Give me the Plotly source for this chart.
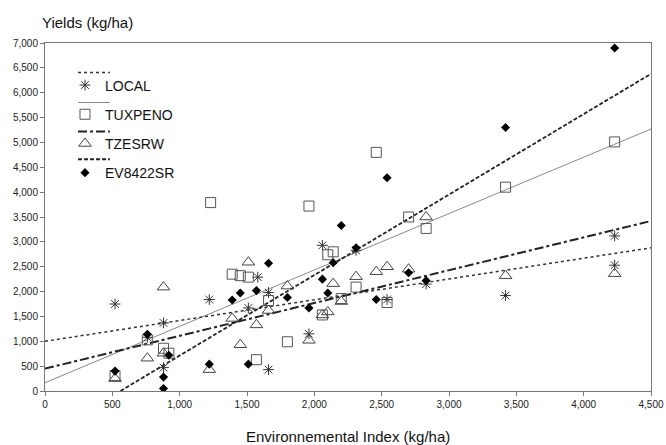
import plotly.graph_objects as go

# ---------------- data ----------------
local_x = [520, 760, 880, 880, 1220, 1510, 1580, 1660, 1660, 1960, 2060, 2310, 2540, 2830, 3420, 4230, 4230]
local_y = [1750, 1080, 1370, 470, 1840, 1670, 2290, 1980, 430, 1150, 2930, 2830, 1840, 2150, 1920, 3120, 2530]

tux_x = [520, 760, 880, 920, 1230, 1390, 1450, 1510, 1570, 1660, 1800, 1960, 2060, 2100, 2140, 2200, 2310, 2460, 2540, 2700, 2830, 3420, 4230]
tux_y = [310, 1030, 860, 760, 3790, 2350, 2320, 2290, 630, 1820, 990, 3720, 1530, 2740, 2800, 1860, 2090, 4800, 1780, 3500, 3270, 4100, 5010]

tze_x = [520, 760, 880, 880, 1220, 1390, 1450, 1510, 1570, 1660, 1800, 1960, 2060, 2100, 2140, 2200, 2310, 2460, 2540, 2700, 2830, 3420, 4230]
tze_y = [250, 660, 2090, 760, 430, 1460, 930, 2590, 1330, 1620, 2110, 1020, 1530, 1590, 2160, 1800, 2300, 2400, 2500, 2450, 3500, 2320, 2360]

ev_x = [520, 760, 880, 880, 920, 1220, 1390, 1450, 1510, 1570, 1660, 1800, 1960, 2060, 2100, 2140, 2200, 2310, 2460, 2540, 2700, 2830, 3420, 4230]
ev_y = [400, 1140, 280, 50, 720, 540, 1830, 1970, 540, 2020, 2570, 1880, 1670, 2250, 1970, 2580, 3330, 2880, 1840, 4290, 2380, 2220, 5300, 6900]

# regression lines (end points)
fit_x = [0, 4500]
local_fit = [1000, 2880]
tux_fit = [167, 5270]
tze_fit = [450, 3420]
ev_fit_x = [560, 4500]
ev_fit = [0, 6380]

series_names = ["LOCAL", "TUXPENO", "TZESRW", "EV8422SR"]
x_ticks = list(range(0, 4501, 500))
y_ticks = list(range(0, 7001, 500))

FONT = "Liberation Sans, Arial, sans-serif"

fig = go.Figure()

# regression lines
fig.add_trace(go.Scatter(x=fit_x, y=tux_fit, mode="lines", showlegend=False,
                         line=dict(color="#8a8a8a", width=1), hoverinfo="skip"))
fig.add_trace(go.Scatter(x=fit_x, y=local_fit, mode="lines", showlegend=False,
                         line=dict(color="#333333", width=1.5, dash="dot"), hoverinfo="skip"))
fig.add_trace(go.Scatter(x=fit_x, y=tze_fit, mode="lines", showlegend=False,
                         line=dict(color="#222222", width=2, dash="dashdot"), hoverinfo="skip"))
fig.add_trace(go.Scatter(x=ev_fit_x, y=ev_fit, mode="lines", showlegend=False,
                         line=dict(color="#222222", width=1.8, dash="4px,2px"), hoverinfo="skip"))

# points
fig.add_trace(go.Scatter(x=local_x, y=local_y, mode="markers", name=series_names[0], legendgroup="a",
                         marker=dict(symbol="asterisk-open", size=9, color="#333333",
                                     line=dict(color="#333333", width=1))))
fig.add_trace(go.Scatter(x=tux_x, y=tux_y, mode="markers", name=series_names[1], legendgroup="b",
                         marker=dict(symbol="square-open", size=10, color="#555555",
                                     line=dict(color="#555555", width=1))))
fig.add_trace(go.Scatter(x=tze_x, y=tze_y, mode="markers", name=series_names[2], legendgroup="c",
                         marker=dict(symbol="triangle-up-open", size=11, color="#444444",
                                     line=dict(color="#444444", width=1))))
fig.add_trace(go.Scatter(x=ev_x, y=ev_y, mode="markers", name=series_names[3], legendgroup="d",
                         marker=dict(symbol="diamond", size=7, color="#000000")))

# legend line samples
legend_line_styles = [
    dict(color="#333333", width=1.5, dash="dot"),
    dict(color="#8a8a8a", width=1),
    dict(color="#222222", width=2, dash="dashdot"),
    dict(color="#222222", width=1.8, dash="4px,2px"),
]
legend_line_y = [0.915, 0.829, 0.746, 0.666]
for yy, st in zip(legend_line_y, legend_line_styles):
    fig.add_shape(type="line", xref="paper", yref="paper", x0=0.0545, x1=0.107, y0=yy, y1=yy,
                  line=st)

axis_common = dict(showgrid=False, zeroline=False, showline=True, linecolor="#777777",
                   linewidth=1, mirror=True, ticks="outside", ticklen=4, tickcolor="#777777",
                   tickfont=dict(family=FONT, size=10, color="#222222"), tickformat=",d",
                   automargin=False)

fig.update_xaxes(range=[0, 4500], tickvals=x_ticks, **axis_common)
fig.update_yaxes(range=[0, 7000], tickvals=y_ticks, **axis_common)

fig.add_annotation(text="Yields (kg/ha)", xref="paper", yref="paper", x=-0.008, y=1.060,
                   xanchor="left", yanchor="middle", showarrow=False,
                   font=dict(family=FONT, size=15, color="#111111"))
fig.add_annotation(text="Environnemental Index (kg/ha)", xref="paper", yref="paper", x=0.5, y=-0.132,
                   xanchor="center", yanchor="middle", showarrow=False,
                   font=dict(family=FONT, size=15, color="#111111"))

fig.update_layout(
    width=666, height=445,
    margin=dict(l=45, r=15, t=43, b=54),
    plot_bgcolor="white", paper_bgcolor="white",
    font=dict(family=FONT, color="#111111"),
    legend=dict(x=0.033, y=0.924, xanchor="left", yanchor="top", bgcolor="rgba(0,0,0,0)",
                font=dict(family=FONT, size=14, color="#111111"), tracegroupgap=8,
                itemsizing="trace"),
)

fig.write_html("out.html", config={"displayModeBar": False},
               post_script="document.body.style.margin='0px';")
